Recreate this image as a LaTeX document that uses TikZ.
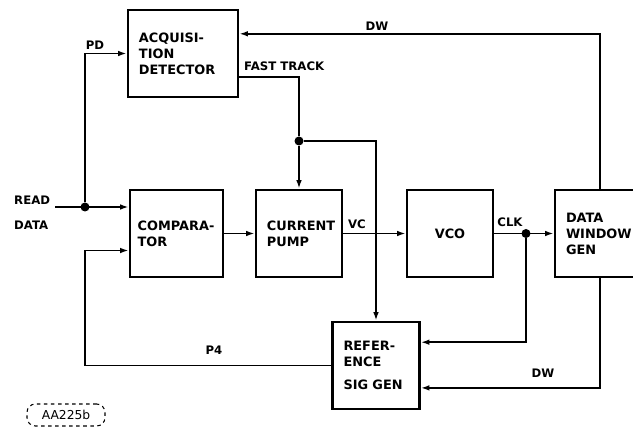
\documentclass[tikz,border=0pt]{standalone}
\usepackage{fontspec}
\setmainfont{DejaVu Sans}
\usetikzlibrary{positioning,calc,arrows.meta}

\begin{document}
\begin{tikzpicture}[
    x=0.03cm, y=-0.03cm,
    block/.style={draw, line width=2.2pt, align=left, minimum height=2.61cm, inner xsep=0.33cm, font=\bfseries\fontsize{11}{13.6}\selectfont},
    lbl/.style={inner sep=0pt, font=\bfseries\fontsize{10}{12}\selectfont},
    arr/.style={-{Latex[length=2.6mm,width=1.7mm]}, line width=1.5pt},
    wire/.style={line width=1.5pt},
    dot/.style={circle, fill, inner sep=0pt, minimum size=0.27cm}
]
\useasboundingbox (0,0) rectangle (633,428);
\clip (0,0) rectangle (633,428);
\node[block, text width=2.64cm] (acq) at (183,53.5) {ACQUISI-\\TION\\DETECTOR};
\node[block, text width=2.33cm, inner xsep=0.23cm] (comp) at (176.5,233.5) {COMPARA-\\TOR};
\node[block, text width=1.92cm] (pump) at (299,233.5) {CURRENT\\PUMP};
\node[block, text width=1.92cm, align=center] (vco) at (450,233.5) {VCO};
\node[block, text width=2.04cm] (dwg) at (600,233.5) {DATA\\WINDOW\\GEN};
\node[block, text width=1.95cm] (ref) at (376,365.5) {REFER-\\ENCE\\[0.2cm]SIG GEN};
\node[lbl, anchor=west] (readlbl) at (14,200) {READ};
\node[lbl, anchor=west] (datalbl) at (14,225) {DATA};
\coordinate (rdin) at (55,207);
\node[dot] (jpd) at (85,207) {};
\node[dot] (jft) at (299,141) {};
\node[dot] (jclk) at (526,233.5) {};
\coordinate (acqdw) at ($(acq.north east)!0.28!(acq.south east)$);
\coordinate (acqft) at ($(acq.north east)!0.76!(acq.south east)$);
\coordinate (compin) at (comp.west |- rdin);
\coordinate (compp4) at ($(comp.north west)!0.69!(comp.south west)$);
\coordinate (refclk) at ($(ref.north east)!0.24!(ref.south east)$);
\coordinate (refdw) at ($(ref.north east)!0.75!(ref.south east)$);
\draw[arr] (rdin) -- (compin);
\draw[arr] (jpd) |- (acq.west);
\draw[arr] (dwg.north) |- (acqdw);
\draw[wire] (acqft) -| (jft);
\draw[arr] (jft) -- (pump);
\draw[arr] (jft) -| (ref);
\draw[arr] (comp) -- (pump);
\draw[arr] (pump) -- (vco);
\draw[arr] (vco) -- (dwg);
\draw[arr] (jclk) |- (refclk);
\draw[arr] (dwg.south) |- (refdw);
\draw[arr] (ref.west) -| (jpd |- compp4) -- (compp4);
\node[lbl] (pdlbl) at (95,45) {PD};
\node[lbl] (dwtop) at (377,26) {DW};
\node[lbl, anchor=west] (ftlbl) at (244,66) {FAST TRACK};
\node[lbl] (vclbl) at (357,224) {VC};
\node[lbl] (clklbl) at (510,222) {CLK};
\node[lbl] (p4lbl) at (214,350) {P4};
\node[lbl] (dwbot) at (543,373) {DW};
\node[draw, dashed, rounded corners=0.25cm, line width=0.9pt, font=\fontsize{10.5}{12}\selectfont, minimum width=2.34cm, minimum height=0.66cm] (tag) at (66,415) {AA225b};
\end{tikzpicture}
\end{document}
